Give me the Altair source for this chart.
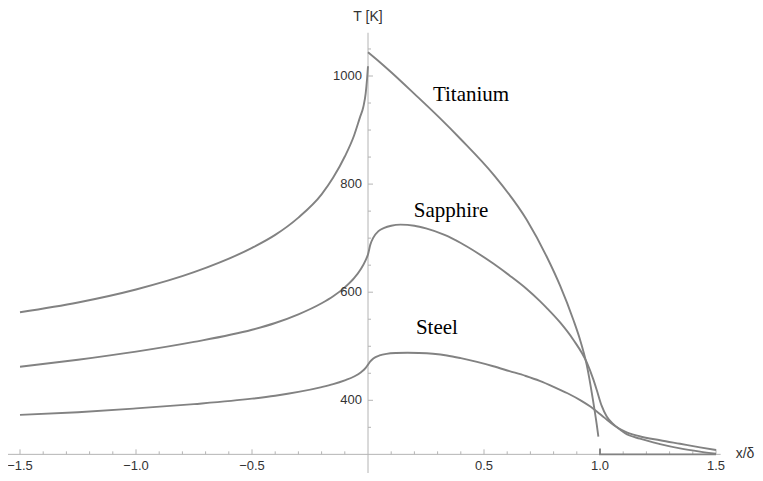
import altair as alt
import pandas as pd

# ---------------- data ----------------
ti_left_x = [-1.5, -1.25, -1.0, -0.75, -0.5, -0.4, -0.3, -0.2, -0.15, -0.1, -0.06, -0.035, -0.02, -0.01, -0.004, 0.0]
ti_left_T = [563, 581, 605, 637, 682, 706, 738, 781, 812, 851, 890, 923, 943, 968, 995, 1018]

ti_right_x = [0.0, 0.05, 0.1, 0.2, 0.31, 0.4, 0.54, 0.684, 0.77, 0.828, 0.885, 0.914, 0.943, 0.968, 0.986, 0.993]
ti_right_T = [1044, 1026, 1007, 967, 922, 883, 818, 734, 666, 612, 549, 512, 465, 405, 355, 333]

ti_tail_x = [1.0, 1.0, 1.5]
ti_tail_T = [311, 300, 300]

sa_x = [-1.5, -1.25, -1.0, -0.75, -0.5, -0.4, -0.3, -0.2, -0.15, -0.1, -0.06, -0.03, -0.01, 0.0,
        0.01, 0.023, 0.045, 0.07, 0.1, 0.14, 0.2, 0.25, 0.33, 0.4, 0.47, 0.54, 0.61, 0.684, 0.74,
        0.77, 0.828, 0.885, 0.943, 0.97, 0.986, 1.007, 1.029, 1.06, 1.086, 1.108, 1.172, 1.259,
        1.345, 1.431, 1.5]
sa_T = [462, 475, 490, 508, 530.5, 543, 559, 579.5, 592.5, 609, 626, 643.5, 659.5, 670,
        688, 701, 713, 719, 723, 725, 723, 718, 706, 691, 673, 653, 631, 606, 584,
        571, 544, 512, 470, 440, 419, 390, 370, 355, 346, 339, 329, 319,
        311, 305, 301]

st_x = [-1.5, -1.25, -1.0, -0.75, -0.5, -0.4, -0.3, -0.2, -0.15, -0.1, -0.06, -0.03, -0.01, 0.0,
        0.01, 0.023, 0.05, 0.08, 0.12, 0.17, 0.22, 0.28, 0.34, 0.4, 0.47, 0.54, 0.61, 0.68, 0.74,
        0.8, 0.86, 0.92, 0.96, 0.986, 1.02, 1.06, 1.108, 1.17, 1.259, 1.345, 1.431, 1.5]
st_T = [373, 378, 385, 393, 403, 408.5, 415.5, 424.5, 430, 437, 444, 452, 460, 466,
        472, 477.5, 483, 486, 487.5, 488, 487.5, 486, 483, 478, 471, 463, 454, 445, 436,
        425, 413, 399, 388, 379.5, 367.5, 354, 342, 333.5, 326, 319.5, 313, 308]

curve_labels = ["Titanium", "Sapphire", "Steel"]
curve_label_x = [0.444, 0.358, 0.297]
curve_label_T = [953, 740, 522]

x_major = [-1.5, -1.0, -0.5, 0.5, 1.0, 1.5]
x_minor = [-1.4, -1.3, -1.2, -1.1, -0.9, -0.8, -0.7, -0.6, -0.4, -0.3, -0.2, -0.1,
           0.1, 0.2, 0.3, 0.4, 0.6, 0.7, 0.8, 0.9, 1.1, 1.2, 1.3, 1.4]
y_major = [400, 600, 800, 1000]
y_minor = [350, 450, 500, 550, 650, 700, 750, 850, 900, 950, 1050]

# ---------------- layout ----------------
W, H = 747, 465
PX_X = 232.0      # pixels per unit x
PX_Y = 0.5405     # pixels per kelvin
XMIN, XMAX = -360 / PX_X, (W - 360) / PX_X
YMAX = 1000 + 68 / PX_Y
YMIN = 1000 - (H - 68) / PX_Y
T0 = 300          # x-axis position
X_AXIS_END = 1.52
Y_AXIS_TOP = 1080

xs = alt.Scale(domain=[XMIN, XMAX], nice=False, zero=False)
ys = alt.Scale(domain=[YMIN, YMAX], nice=False, zero=False)

AXIS_COLOR = "#b4b4b4"
CURVE_COLOR = "#828282"
LABEL_COLOR = "#333333"


def seg(name, xv, tv):
    return pd.DataFrame({"x": xv, "T": tv, "seg": name, "i": list(range(len(xv)))})


curves_df = pd.concat([
    seg("ti_left", ti_left_x, ti_left_T),
    seg("ti_right", ti_right_x, ti_right_T),
    seg("sapphire", sa_x, sa_T),
    seg("steel", st_x, st_T),
], ignore_index=True)
tail_df = seg("ti_tail", ti_tail_x, ti_tail_T)

X = lambda f="x": alt.X(f"{f}:Q", scale=xs, axis=None)
Y = lambda f="T": alt.Y(f"{f}:Q", scale=ys, axis=None)

curves = alt.Chart(curves_df).mark_line(
    interpolate="monotone", color=CURVE_COLOR, strokeWidth=1.9
).encode(x=X(), y=Y(), detail="seg:N", order="i:Q")

tail = alt.Chart(tail_df).mark_line(
    color=CURVE_COLOR, strokeWidth=1.9
).encode(x=X(), y=Y(), detail="seg:N", order="i:Q")

axes_df = pd.DataFrame({"x": [XMIN, 0.0], "x2": [X_AXIS_END, 0.0],
                        "y": [T0, YMIN], "y2": [T0, Y_AXIS_TOP]})
axes = alt.Chart(axes_df).mark_rule(color=AXIS_COLOR, strokeWidth=1).encode(
    x=X("x"), x2="x2:Q", y=Y("y"), y2="y2:Q")

maj_len, min_len = 5.0, 3.0
xt_df = pd.DataFrame({
    "x": x_major + x_minor,
    "y": [T0] * (len(x_major) + len(x_minor)),
    "y2": [T0 + maj_len / PX_Y] * len(x_major) + [T0 + min_len / PX_Y] * len(x_minor),
})
yt_df = pd.DataFrame({
    "x": [0.0] * (len(y_major) + len(y_minor)),
    "x2": [maj_len / PX_X] * len(y_major) + [min_len / PX_X] * len(y_minor),
    "y": y_major + y_minor,
})
xticks = alt.Chart(xt_df).mark_rule(color=AXIS_COLOR, strokeWidth=1).encode(
    x=X("x"), y=Y("y"), y2="y2:Q")
yticks = alt.Chart(yt_df).mark_rule(color=AXIS_COLOR, strokeWidth=1).encode(
    x=X("x"), x2="x2:Q", y=Y("y"))

xl_df = pd.DataFrame({"x": x_major, "T": [T0] * len(x_major),
                      "lab": [f"{v:.1f}".replace("-", "\u2212") for v in x_major]})
xlabels = alt.Chart(xl_df).mark_text(
    font="Liberation Sans", fontSize=13, color=LABEL_COLOR, align="center",
    baseline="middle", dy=12
).encode(x=X(), y=Y(), text="lab:N")

yl_df = pd.DataFrame({"x": [0.0] * len(y_major), "T": y_major,
                      "lab": [str(v) for v in y_major]})
ylabels = alt.Chart(yl_df).mark_text(
    font="Liberation Sans", fontSize=13, color=LABEL_COLOR, align="right",
    baseline="middle", dx=-6
).encode(x=X(), y=Y(), text="lab:N")

ytitle_df = pd.DataFrame({"x": [0.0], "T": [1000 + 59 / PX_Y], "lab": ["T [K]"]})
xtitle_df = pd.DataFrame({"x": [1.585], "T": [T0], "lab": ["x/\u03b4"]})
ytitle = alt.Chart(ytitle_df).mark_text(
    font="Liberation Sans", fontSize=14, color=LABEL_COLOR, align="center", baseline="middle"
).encode(x=X(), y=Y(), text="lab:N")
xtitle = alt.Chart(xtitle_df).mark_text(
    font="Liberation Sans", fontSize=14, color=LABEL_COLOR, align="left", baseline="middle"
).encode(x=X(), y=Y(), text="lab:N")

cl_df = pd.DataFrame({"x": curve_label_x, "T": curve_label_T, "lab": curve_labels})
clabels = alt.Chart(cl_df).mark_text(
    font="Liberation Serif", fontSize=21, color="black", align="center", baseline="alphabetic"
).encode(x=X(), y=Y(), text="lab:N")

chart = alt.layer(
    axes, xticks, yticks, curves, tail, xlabels, ylabels, ytitle, xtitle, clabels
).properties(
    width=W, height=H, padding=0, autosize="none", background="white"
).configure_view(stroke=None)

chart.save("out.html", embed_options={"renderer": "svg", "actions": False})
